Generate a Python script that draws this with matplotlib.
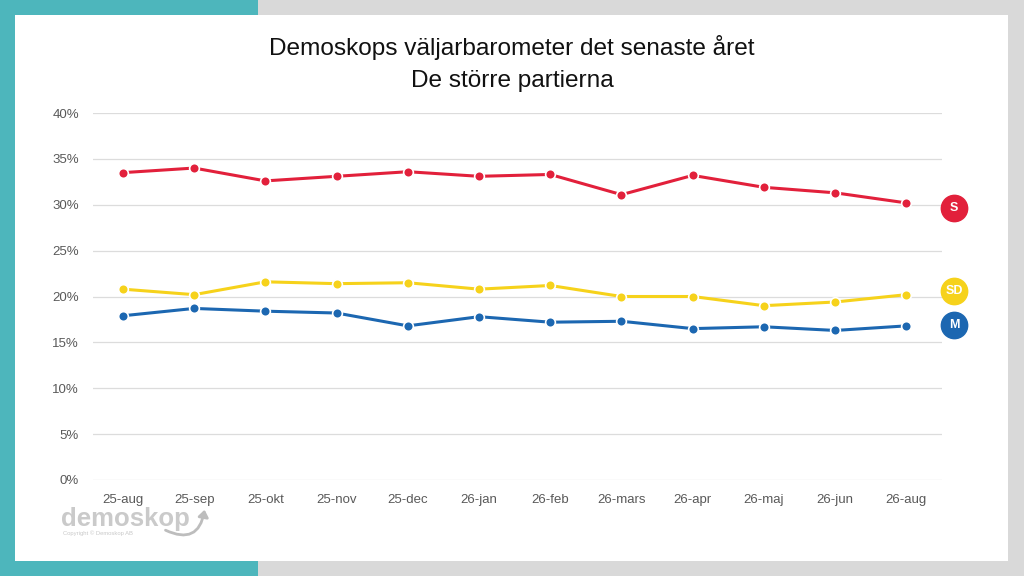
import matplotlib
matplotlib.use("Agg")
import matplotlib.pyplot as plt
from matplotlib.patches import Rectangle, FancyArrowPatch
from matplotlib.ticker import FuncFormatter

plt.rcParams["font.family"] = ["Liberation Sans", "DejaVu Sans"]

months = ["25-aug", "25-sep", "25-okt", "25-nov", "25-dec", "26-jan",
          "26-feb", "26-mars", "26-apr", "26-maj", "26-jun", "26-aug"]
s_vals = [33.5, 34.0, 32.6, 33.1, 33.6, 33.1, 33.3, 31.1, 33.2, 31.9, 31.3, 30.2]
sd_vals = [20.8, 20.2, 21.6, 21.4, 21.5, 20.8, 21.2, 20.0, 20.0, 19.0, 19.4, 20.2]
m_vals = [17.9, 18.7, 18.4, 18.2, 16.8, 17.8, 17.2, 17.3, 16.5, 16.7, 16.3, 16.8]
parties = ["S", "SD", "M"]
badge_y = [29.6, 20.6, 16.9]

RED = "#E2203B"
YELLOW = "#F6D21B"
BLUE = "#1C67B1"

fig = plt.figure(figsize=(10.24, 5.76), dpi=100)
fig.patch.set_facecolor("#D9D9D9")
# frame: teal block on the left, white card on top
fig.patches.append(Rectangle((0, 0), 258 / 1024, 1, transform=fig.transFigure,
                             facecolor="#4DB6BC", edgecolor="none", zorder=-2))
fig.patches.append(Rectangle((15 / 1024, 15 / 576), 993 / 1024, 546 / 576,
                             transform=fig.transFigure, facecolor="white",
                             edgecolor="none", zorder=-1))

fig.text(0.5, 1 - 48 / 576, "Demoskops väljarbarometer det senaste året",
         ha="center", va="center", fontsize=17.6, color="#111111")
fig.text(0.5, 1 - 81 / 576, "De större partierna",
         ha="center", va="center", fontsize=17.6, color="#111111")

ax = fig.add_axes([93 / 1024, 96 / 576, 849 / 1024, 367 / 576])
ax.set_zorder(5)
ax.set_facecolor("none")
x = list(range(len(months)))
for vals, col in [(s_vals, RED), (sd_vals, YELLOW), (m_vals, BLUE)]:
    ax.plot(x, vals, color=col, lw=2.2, marker="o", ms=7, mfc=col,
            mec="white", mew=1.2, zorder=3)

ax.set_ylim(0, 40)
ax.set_xlim(-0.42, 11.5)
ax.set_yticks(range(0, 41, 5))
ax.yaxis.set_major_formatter(FuncFormatter(lambda v, p: f"{int(v)}%"))
ax.set_xticks(x)
ax.set_xticklabels(months)
ax.tick_params(length=0, labelsize=9.5, labelcolor="#595959")
ax.tick_params(axis="y", pad=10)
ax.tick_params(axis="x", pad=10)
ax.grid(axis="y", color="#DCDCDC", lw=0.9)
ax.set_axisbelow(True)
for sp in ax.spines.values():
    sp.set_visible(False)

# party badges at right end
for name, yv, col in zip(parties, badge_y, [RED, YELLOW, BLUE]):
    ax.scatter([11.67], [yv], s=360, color=col, clip_on=False, zorder=4)
    ax.text(11.67, yv, name, ha="center", va="center", color="white",
            fontsize=9, fontweight="bold", clip_on=False, zorder=5)

# logo
fig.text(61 / 1024, 1 - 526 / 576, "demoskop", ha="left", va="baseline",
         fontsize=18.5, color="#CACACA", fontweight="bold")
fig.text(63 / 1024, 1 - 533 / 576, "Copyright © Demoskop AB", ha="left",
         va="center", fontsize=4.2, color="#C9C9C9")
fig.patches.append(FancyArrowPatch((163 / 1024, 1 - 529 / 576),
                                   (205 / 1024, 1 - 507 / 576),
                                   transform=fig.transFigure,
                                   connectionstyle="arc3,rad=0.7",
                                   arrowstyle="-|>,head_length=4,head_width=3",
                                   color="#BDBDBD", lw=2, zorder=3))

fig.savefig("out.png", dpi=100)
